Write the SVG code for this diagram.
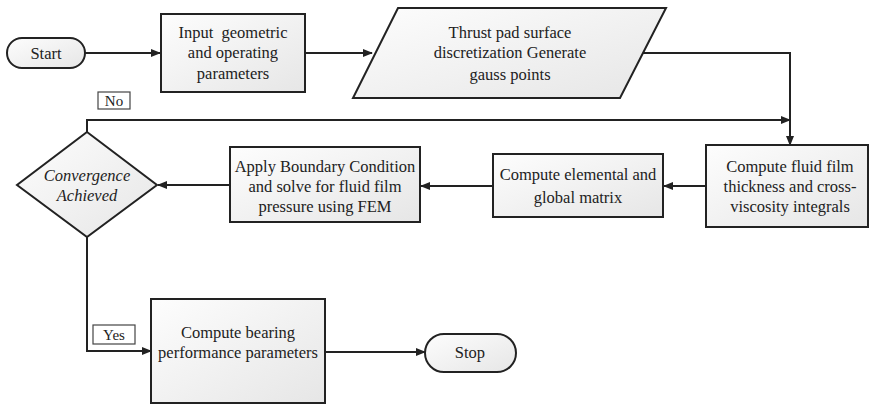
<svg xmlns="http://www.w3.org/2000/svg" width="870" height="405" viewBox="0 0 870 405">
<defs>
<linearGradient id="g" x1="0" y1="0" x2="1" y2="1">
<stop offset="0" stop-color="#fdfdfd"/>
<stop offset="1" stop-color="#e6e6e6"/>
</linearGradient>
<marker id="ah" markerWidth="10" markerHeight="8" refX="9" refY="4" orient="auto" markerUnits="userSpaceOnUse">
<path d="M0,0 L10,4 L0,8 Z" fill="#222"/>
</marker>
<style>
.n{fill:url(#g);stroke:#222;stroke-width:2}
.c{fill:none;stroke:#222;stroke-width:2}
.lb{fill:#fff;stroke:#444;stroke-width:1.2}
</style>
</defs>
<g id="connectors">
<path class="c" d="M85,53 H160" marker-end="url(#ah)"/>
<path class="c" d="M305,53 H372" marker-end="url(#ah)"/>
<path class="c" d="M643,53 H790 V145" marker-end="url(#ah)"/>
<path class="c" d="M87,132 V120 H790" marker-end="url(#ah)"/>
<path class="c" d="M706,186 H664" marker-end="url(#ah)"/>
<path class="c" d="M493,186 H421" marker-end="url(#ah)"/>
<path class="c" d="M230,185 H158" marker-end="url(#ah)"/>
<path class="c" d="M87,237 V351 H151" marker-end="url(#ah)"/>
<path class="c" d="M325,352 H425" marker-end="url(#ah)"/>
</g>
<g font-family="Liberation Serif" font-size="16.5" fill="#222" text-anchor="middle">
<g id="start">
<rect class="n" x="7" y="38" width="78" height="30" rx="15"/>
<text x="46" y="59" font-family="Liberation Serif">Start</text>
</g>
<g id="input">
<rect class="n" x="161" y="14" width="144" height="78"/>
<text x="233" y="38" font-family="Liberation Serif" xml:space="preserve">Input  geometric</text>
<text x="233" y="58" font-family="Liberation Serif">and operating</text>
<text x="233" y="79" font-family="Liberation Serif">parameters</text>
</g>
<g id="discretize">
<polygon class="n" points="398,8 666,8 620,98 353,98"/>
<text x="510" y="38" font-family="Liberation Serif">Thrust pad surface</text>
<text x="510" y="58" font-family="Liberation Serif">discretization Generate</text>
<text x="510" y="80" font-family="Liberation Serif">gauss points</text>
</g>
<g id="filmthickness">
<rect class="n" x="706" y="145" width="162" height="82"/>
<text x="790" y="172" font-family="Liberation Serif">Compute fluid film</text>
<text x="790" y="192" font-family="Liberation Serif">thickness and cross-</text>
<text x="790" y="212" font-family="Liberation Serif">viscosity integrals</text>
</g>
<g id="matrix">
<rect class="n" x="493" y="154" width="170" height="63"/>
<text x="578" y="180" font-family="Liberation Serif">Compute elemental and</text>
<text x="578" y="203" font-family="Liberation Serif">global matrix</text>
</g>
<g id="solve">
<rect class="n" x="230" y="147" width="190" height="75"/>
<text x="325" y="172" font-family="Liberation Serif">Apply Boundary Condition</text>
<text x="325" y="192" font-family="Liberation Serif">and solve for fluid film</text>
<text x="325" y="212" font-family="Liberation Serif">pressure using FEM</text>
</g>
<g id="convergence">
<polygon class="n" points="87,132 157,185 87,237 17,185"/>
<text x="87" y="181" font-family="Liberation Serif" font-style="italic">Convergence</text>
<text x="87" y="201" font-family="Liberation Serif" font-style="italic">Achieved</text>
</g>
<g id="label-no">
<rect class="lb" x="98" y="92" width="32" height="17"/>
<text x="114" y="106" font-family="Liberation Serif" font-size="15">No</text>
</g>
<g id="label-yes">
<rect class="lb" x="93" y="325" width="42" height="19"/>
<text x="114" y="340" font-family="Liberation Serif" font-size="15">Yes</text>
</g>
<g id="performance">
<rect class="n" x="151" y="299" width="174" height="104"/>
<text x="238" y="338" font-family="Liberation Serif">Compute bearing</text>
<text x="238" y="358" font-family="Liberation Serif">performance parameters</text>
</g>
<g id="stop">
<rect class="n" x="425" y="334" width="91" height="38" rx="19"/>
<text x="470" y="358" font-family="Liberation Serif">Stop</text>
</g>
</g>
</svg>
